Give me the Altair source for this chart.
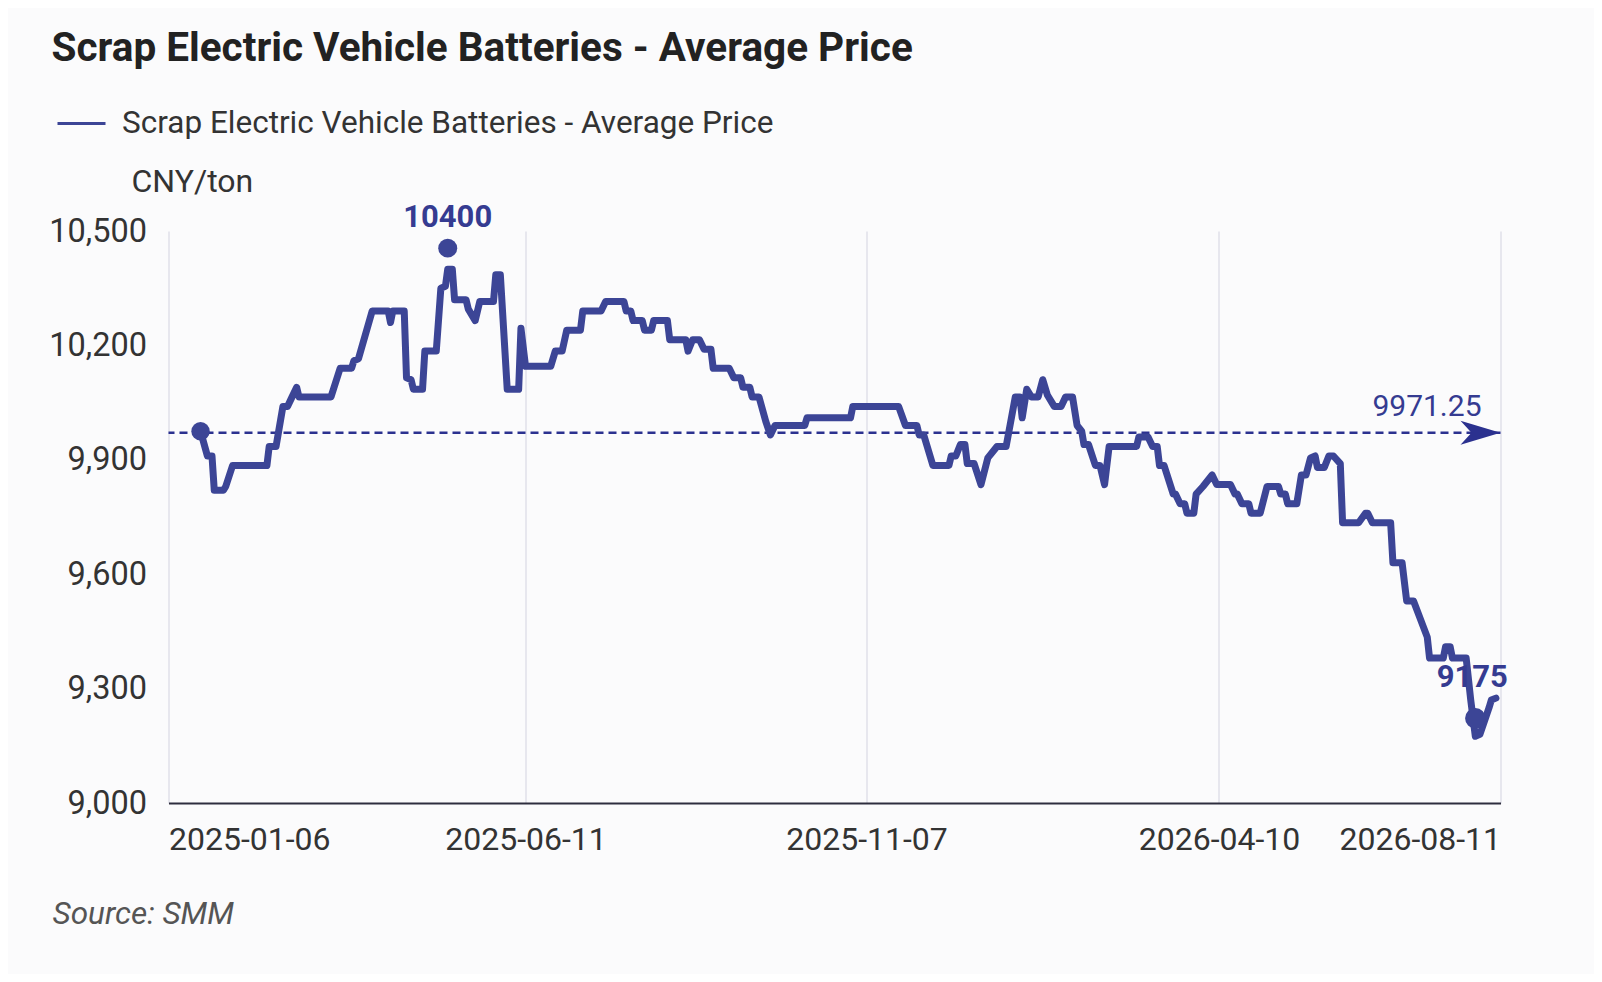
import altair as alt
import pandas as pd

# ---------------- data ----------------
dates = [
    "2025-01-20", "2025-01-23", "2025-01-25", "2025-01-26", "2025-01-30", "2025-01-31",
    "2025-02-03", "2025-02-18", "2025-02-19", "2025-02-22", "2025-02-25", "2025-02-27",
    "2025-03-01", "2025-03-03", "2025-03-04", "2025-03-18", "2025-03-22", "2025-03-27",
    "2025-03-28", "2025-03-30", "2025-04-05", "2025-04-12", "2025-04-13", "2025-04-14",
    "2025-04-19", "2025-04-20", "2025-04-22", "2025-04-23", "2025-04-27", "2025-04-28",
    "2025-05-03", "2025-05-05", "2025-05-07", "2025-05-08", "2025-05-10", "2025-05-11",
    "2025-05-16", "2025-05-17", "2025-05-20", "2025-05-22", "2025-05-28", "2025-05-29",
    "2025-05-31", "2025-06-03", "2025-06-08", "2025-06-09", "2025-06-11", "2025-06-22",
    "2025-06-24", "2025-06-27", "2025-06-29", "2025-07-05", "2025-07-06", "2025-07-14",
    "2025-07-16", "2025-07-24", "2025-07-25", "2025-07-27", "2025-07-28", "2025-08-01",
    "2025-08-02", "2025-08-05", "2025-08-06", "2025-08-12", "2025-08-13", "2025-08-20",
    "2025-08-21", "2025-08-23", "2025-08-26", "2025-08-28", "2025-08-31", "2025-09-01",
    "2025-09-08", "2025-09-10", "2025-09-13", "2025-09-14", "2025-09-17", "2025-09-18",
    "2025-09-21", "2025-09-24", "2025-09-26", "2025-09-28", "2025-10-11", "2025-10-12",
    "2025-10-31", "2025-11-01", "2025-11-21", "2025-11-24", "2025-11-29", "2025-11-30",
    "2025-12-02", "2025-12-06", "2025-12-13", "2025-12-14", "2025-12-16", "2025-12-18",
    "2025-12-20", "2025-12-21", "2025-12-24", "2025-12-27", "2025-12-30", "2026-01-03",
    "2026-01-07", "2026-01-11", "2026-01-13", "2026-01-14", "2026-01-16", "2026-01-18",
    "2026-01-21", "2026-01-23", "2026-01-25", "2026-01-28", "2026-01-31", "2026-02-02",
    "2026-02-05", "2026-02-07", "2026-02-09", "2026-02-10", "2026-02-12", "2026-02-15",
    "2026-02-17", "2026-02-19", "2026-02-21", "2026-03-05", "2026-03-06", "2026-03-10",
    "2026-03-12", "2026-03-14", "2026-03-15", "2026-03-17", "2026-03-21", "2026-03-22",
    "2026-03-24", "2026-03-26", "2026-03-27", "2026-03-30", "2026-03-31", "2026-04-03",
    "2026-04-07", "2026-04-09", "2026-04-15", "2026-04-17", "2026-04-18", "2026-04-20",
    "2026-04-23", "2026-04-24", "2026-04-28", "2026-05-01", "2026-05-06", "2026-05-07",
    "2026-05-09", "2026-05-10", "2026-05-14", "2026-05-16", "2026-05-18", "2026-05-20",
    "2026-05-22", "2026-05-23", "2026-05-26", "2026-05-28", "2026-05-30", "2026-06-02",
    "2026-06-03", "2026-06-10", "2026-06-13", "2026-06-14", "2026-06-16", "2026-06-24",
    "2026-06-25", "2026-06-29", "2026-07-01", "2026-07-04", "2026-07-10", "2026-07-11",
    "2026-07-17", "2026-07-18", "2026-07-20", "2026-07-21", "2026-07-27", "2026-07-29",
    "2026-07-31", "2026-08-02", "2026-08-06", "2026-08-07", "2026-08-09",
]
prices = [
    9975, 9910, 9910, 9820, 9820, 9830,
    9885, 9885, 9935, 9935, 10040, 10040,
    10065, 10090, 10065, 10065, 10140, 10140,
    10160, 10165, 10290, 10290, 10260, 10290,
    10290, 10115, 10110, 10085, 10085, 10185,
    10185, 10350, 10355, 10400, 10400, 10320,
    10320, 10295, 10265, 10315, 10315, 10385,
    10385, 10085, 10085, 10245, 10145, 10145,
    10185, 10185, 10240, 10240, 10290, 10290,
    10315, 10315, 10290, 10290, 10265, 10265,
    10240, 10240, 10265, 10265, 10215, 10215,
    10185, 10215, 10215, 10190, 10190, 10140,
    10140, 10115, 10115, 10090, 10090, 10065,
    10065, 10000, 9965, 9990, 9990, 10010,
    10010, 10040, 10040, 9990, 9990, 9965,
    9965, 9885, 9885, 9910, 9910, 9940,
    9940, 9890, 9890, 9835, 9905, 9935,
    9935, 10065, 10065, 10010, 10085, 10065,
    10065, 10110, 10070, 10040, 10040, 10065,
    10065, 9990, 9975, 9940, 9940, 9885,
    9885, 9835, 9935, 9935, 9960, 9960,
    9935, 9935, 9885, 9885, 9810, 9810,
    9785, 9785, 9760, 9760, 9810, 9830,
    9860, 9835, 9835, 9810, 9810, 9785,
    9785, 9760, 9760, 9830, 9830, 9810,
    9810, 9785, 9785, 9860, 9860, 9905,
    9910, 9880, 9880, 9910, 9910, 9890,
    9735, 9735, 9760, 9760, 9735, 9735,
    9630, 9630, 9530, 9530, 9435, 9380,
    9380, 9410, 9410, 9380, 9380, 9270,
    9175, 9180, 9250, 9270, 9275,
]
series_name = "Scrap Electric Vehicle Batteries - Average Price"
title_text = "Scrap Electric Vehicle Batteries - Average Price"
unit_text = "CNY/ton"
source_text = "Source: SMM"
average_price = 9971.25
y_ticks = [9000, 9300, 9600, 9900, 10200, 10500]
x_ticks = ["2025-01-06", "2025-06-11", "2025-11-07", "2026-04-10", "2026-08-11"]

# ---------------- styles ----------------
LINE = "#3c4596"
NAVY = "#2b318f"
LABEL = "#353b91"
TEXT = "#333333"
GRID = "#dadae4"
FONT = "Roboto"
BG = "#fbfbfc"


def dt(s):
    y, m, d = (int(p) for p in s.split("-"))
    return alt.DateTime(year=y, month=m, date=d, utc=True)


df = pd.DataFrame({"date": dates, "price": prices, "series": series_name})
start_df = df.iloc[[0]]
max_df = df.iloc[[int(df["price"].idxmax())]]
min_df = df.iloc[[int(df["price"].idxmin())]]
avg_df = pd.DataFrame({"date": [x_ticks[-1]], "avg": [average_price],
                       "label": [f"{average_price:g}"]})

x_enc = alt.X(
    "date:T",
    scale=alt.Scale(type="utc", domain=[dt(x_ticks[0]), dt(x_ticks[-1])]),
    axis=alt.Axis(
        values=[dt(s) for s in x_ticks], format="%Y-%m-%d", title=None,
        labelFlush=True, labelOverlap=False, grid=True, gridColor=GRID,
        gridWidth=1.2, ticks=False, tickSize=0, domainColor="#2e2e3e",
        domainWidth=2, labelFontSize=32, labelPadding=21, labelColor=TEXT,
        labelFont=FONT,
    ),
)
y_scale = alt.Scale(domain=[y_ticks[0], y_ticks[-1]], nice=False, zero=False)
y_enc = alt.Y(
    "price:Q", scale=y_scale,
    axis=alt.Axis(
        values=y_ticks, format=",.0f", grid=False, ticks=False, tickSize=0,
        domain=False, labelFontSize=32.5, labelPadding=22, labelColor=TEXT,
        labelFont=FONT, title=unit_text, titleAngle=0, titleX=-37.5,
        titleY=-50, titleAlign="left", titleBaseline="middle",
        titleFontSize=32, titleFontWeight="normal", titleColor=TEXT,
        titleFont=FONT,
    ),
)

line = alt.Chart(df).mark_line(strokeWidth=7, strokeJoin="round",
                               strokeCap="round").encode(
    x=x_enc, y=y_enc,
    color=alt.Color(
        "series:N", scale=alt.Scale(range=[LINE]),
        legend=alt.Legend(
            orient="none", legendX=-112.5, legendY=-133, title=None,
            symbolType="stroke", symbolSize=2304, symbolStrokeWidth=3,
            labelFontSize=31.5, labelFont=FONT, labelColor=TEXT,
            labelOffset=15, padding=0, labelLimit=1200,
        ),
    ),
)

mean_rule = alt.Chart(avg_df).mark_rule(
    strokeDash=[8, 5], strokeWidth=2.5, color=NAVY
).encode(y=alt.Y("avg:Q", scale=y_scale))

arrow = alt.Chart(avg_df).mark_point(
    shape="M1,0 L-1,-0.6 L-0.45,0 L-1,0.6 Z", size=1600, filled=True,
    opacity=1, color=NAVY, xOffset=-20,
).encode(x="date:T", y=alt.Y("avg:Q", scale=y_scale))

avg_label = alt.Chart(avg_df).mark_text(
    align="right", baseline="middle", dx=-19, dy=-26, fontSize=30,
    color=LABEL, font=FONT,
).encode(x="date:T", y=alt.Y("avg:Q", scale=y_scale), text="label:N")

start_pt = alt.Chart(start_df).mark_circle(size=340, opacity=1, color=LINE).encode(
    x="date:T", y=alt.Y("price:Q", scale=y_scale))
max_pt = alt.Chart(max_df).mark_circle(size=360, opacity=1, color=LINE,
                                       yOffset=-21).encode(
    x="date:T", y=alt.Y("price:Q", scale=y_scale))
min_pt = alt.Chart(min_df).mark_circle(size=420, opacity=1, color=LINE,
                                       yOffset=-18).encode(
    x="date:T", y=alt.Y("price:Q", scale=y_scale))
max_lbl = alt.Chart(max_df).mark_text(
    dy=-51, fontSize=31, fontWeight="bold", color=LABEL, font=FONT,
    baseline="middle",
).encode(x="date:T", y=alt.Y("price:Q", scale=y_scale), text="price:Q")
min_lbl = alt.Chart(min_df).mark_text(
    dy=-58, dx=-3, fontSize=31, fontWeight="bold", color=LABEL, font=FONT,
    baseline="middle",
).encode(x="date:T", y=alt.Y("price:Q", scale=y_scale), text="price:Q")

title = alt.Chart(pd.DataFrame({"t": [title_text]})).mark_text(
    align="left", baseline="middle", fontSize=40.5, fontWeight="bold",
    font=FONT, color="#222222",
).encode(x=alt.value(-117), y=alt.value(-182), text="t:N")

source = alt.Chart(pd.DataFrame({"t": [source_text]})).mark_text(
    align="left", baseline="middle", fontSize=31.5, fontStyle="italic",
    font=FONT, color="#555555",
).encode(x=alt.value(-116), y=alt.value(684), text="t:N")

chart = alt.layer(
    mean_rule, line, arrow, avg_label, start_pt, max_pt, min_pt,
    max_lbl, min_lbl, title, source,
).properties(
    width=1332, height=572,
    autosize=alt.AutoSizeParams(type="none"),
    padding={"left": 160.5, "top": 223, "right": 93.5, "bottom": 171},
    background=BG,
).configure(font=FONT).configure_view(stroke=None)

chart.save("out.html", embed_options={"renderer": "svg", "actions": False})
